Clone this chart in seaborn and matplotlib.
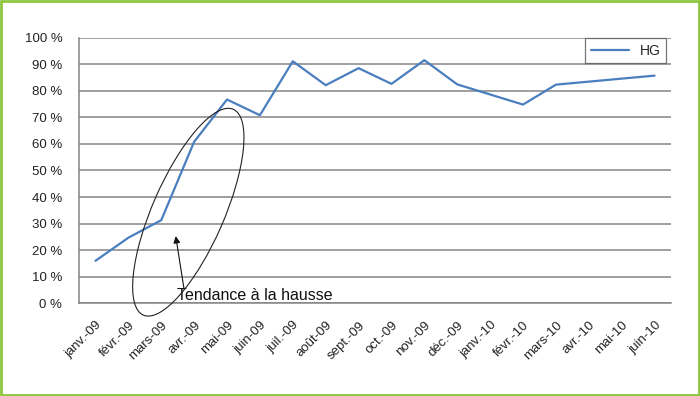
import numpy as np
import pandas as pd
import matplotlib
matplotlib.use("Agg")
import matplotlib.pyplot as plt
from matplotlib.patches import Ellipse, Rectangle
from matplotlib.transforms import ScaledTranslation
import seaborn as sns

# months on the x axis
months = ['janv.-09', 'févr.-09', 'mars-09', 'avr.-09', 'mai-09', 'juin-09',
          'juil.-09', 'août-09', 'sept.-09', 'oct.-09', 'nov.-09', 'déc.-09',
          'janv.-10', 'févr.-10', 'mars-10', 'avr.-10', 'mai-10', 'juin-10']

# HG series in %, None = no value (line is joined across the gap)
hg = [16.0, 24.7, 31.3, 60.8, 76.7, 70.8, 91.1, 82.1, 88.5, 82.6, 91.5, 82.4,
      None, 74.8, 82.3, None, None, 85.7]

y_ticks = [0, 10, 20, 30, 40, 50, 60, 70, 80, 90, 100]
note = 'Tendance à la hausse'

sns.set_style('white')
plt.rcParams['font.family'] = ['Liberation Sans', 'DejaVu Sans']

df = pd.DataFrame({'idx': np.arange(len(months)), 'HG': hg}).dropna()

fig = plt.figure(figsize=(7, 3.96), dpi=100)
ax = fig.add_axes([0.1129, 0.234, 0.8457, 0.671])

grid_col = '#858585'
sns.lineplot(data=df, x='idx', y='HG', ax=ax, color='#4a7ebf', linewidth=1.6,
             label='HG', zorder=3)

ax.set_xlim(-0.5, len(months) - 0.5)
ax.set_ylim(0, 100)

# y axis
ax.set_yticks(y_ticks)
ax.set_yticklabels([f'{v} %' for v in y_ticks], fontsize=9.5, color='#222222')
ax.tick_params(axis='y', length=6, width=1, color=grid_col, pad=6)
ax.yaxis.grid(True, color=grid_col, linewidth=1.1)
ax.set_axisbelow(True)

# x axis: labels at category centres, tick marks at boundaries
ax.set_xticks(np.arange(len(months)))
ax.set_xticklabels(months, rotation=45, ha='right', va='center',
                   rotation_mode='anchor', fontsize=9.5, color='#222222')
ax.tick_params(axis='x', which='major', length=0, pad=8)
shift = ScaledTranslation(0.045, -0.09, fig.dpi_scale_trans)
for lab in ax.get_xticklabels():
    lab.set_transform(lab.get_transform() + shift)
ax.set_xticks(np.arange(-0.5, len(months)), minor=True)
ax.tick_params(axis='x', which='minor', length=5, width=1, color=grid_col,
               direction='out')
ax.set_xlabel('')
ax.set_ylabel('')

for s in ['top', 'right']:
    ax.spines[s].set_visible(False)
for s in ['left', 'bottom']:
    ax.spines[s].set_color(grid_col)
    ax.spines[s].set_linewidth(1.1)

leg = ax.legend(loc='upper right', bbox_to_anchor=(0.9916, 0.998),
                borderaxespad=0, fontsize=10, frameon=True, fancybox=False,
                handlelength=2.75, handletextpad=0.75, borderpad=0.4)
leg.get_frame().set_edgecolor('#555555')
leg.get_frame().set_linewidth(0.9)

# annotation: ellipse, arrow and note
ell = Ellipse((1.883, 1.838), 2.246, 0.716, angle=66.4, fill=False,
              edgecolor='#222222', linewidth=0.8,
              transform=fig.dpi_scale_trans, clip_on=False, zorder=5)
fig.patches.append(ell)
ax.annotate('', xy=(2.44, 25.3), xytext=(2.69, 5.6),
            arrowprops=dict(arrowstyle='-|>', color='#111111', lw=0.8,
                            mutation_scale=10, shrinkA=0, shrinkB=0))
ax.text(2.48, 1.4, note, fontsize=11.5, color='#111111', va='baseline',
        ha='left', zorder=6)

# green frame around the picture
fig.patches.append(Rectangle((0.0015, 0.003), 0.997, 0.994, fill=False,
                             edgecolor='#8cc63f', linewidth=2,
                             transform=fig.transFigure))

fig.savefig('out.png', dpi=100)
